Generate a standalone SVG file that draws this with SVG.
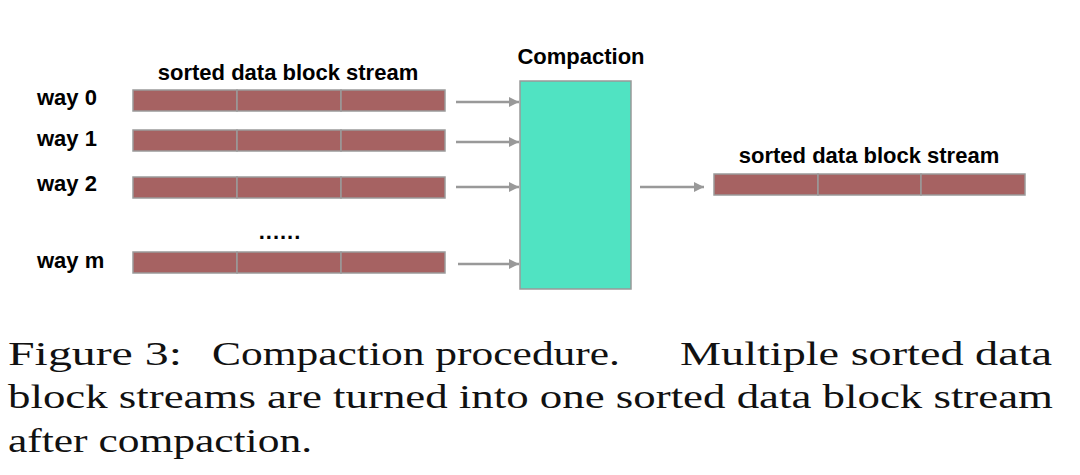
<svg xmlns="http://www.w3.org/2000/svg" width="1080" height="475" viewBox="0 0 1080 475">
<defs>
<style>
.lbl{font-family:"Liberation Sans",Arial,sans-serif;font-weight:bold;font-size:22px;fill:#000}
.blk{fill:#A66262;stroke:#9A9A9A;stroke-width:1.5}
.conn{stroke:#999;stroke-width:2.5;fill:none;marker-end:url(#ah)}
.cap{font-family:"Liberation Serif","Times New Roman",serif;font-size:34px;fill:#111}
</style>
<marker id="ah" viewBox="0 0 10 10" refX="10" refY="5" markerWidth="5.5" markerHeight="4" orient="auto" markerUnits="strokeWidth">
<path d="M0,0 L10,5 L0,10 z" fill="#999"/>
</marker>
</defs>
<rect width="1080" height="475" fill="#fff"/>
<g id="stream-label-in"><text class="lbl" x="288" y="80" text-anchor="middle">sorted data block stream</text></g>
<g id="way0"><text class="lbl" x="37" y="105">way 0</text>
<rect class="blk" x="133" y="90" width="104" height="21"/><rect class="blk" x="237" y="90" width="104" height="21"/><rect class="blk" x="341" y="90" width="104" height="21"/></g>
<g id="way1"><text class="lbl" x="37" y="146">way 1</text>
<rect class="blk" x="133" y="130" width="104" height="21"/><rect class="blk" x="237" y="130" width="104" height="21"/><rect class="blk" x="341" y="130" width="104" height="21"/></g>
<g id="way2"><text class="lbl" x="37" y="191">way 2</text>
<rect class="blk" x="133" y="177" width="104" height="21"/><rect class="blk" x="237" y="177" width="104" height="21"/><rect class="blk" x="341" y="177" width="104" height="21"/></g>
<g id="dots"><text class="lbl" x="280" y="239" text-anchor="middle" letter-spacing="1">......</text></g>
<g id="waym"><text class="lbl" x="37" y="268">way m</text>
<rect class="blk" x="133" y="252" width="104" height="21"/><rect class="blk" x="237" y="252" width="104" height="21"/><rect class="blk" x="341" y="252" width="104" height="21"/></g>
<g id="compaction"><text class="lbl" x="581" y="64" text-anchor="middle">Compaction</text>
<rect x="520" y="81" width="111" height="208" fill="#50E3C2" stroke="#999" stroke-width="1.5"/></g>
<g id="out"><text class="lbl" x="869" y="163" text-anchor="middle">sorted data block stream</text>
<rect class="blk" x="714" y="174" width="104" height="21"/><rect class="blk" x="818" y="174" width="103" height="21"/><rect class="blk" x="921" y="174" width="104" height="21"/></g>
<g id="connectors">
<line class="conn" x1="456" y1="102" x2="519" y2="102"/>
<line class="conn" x1="456" y1="142" x2="519" y2="142"/>
<line class="conn" x1="456" y1="187" x2="519" y2="187"/>
<line class="conn" x1="458" y1="264" x2="519" y2="264"/>
<line class="conn" x1="640" y1="187" x2="704" y2="187"/>
</g>
<g id="caption">
<text class="cap" y="365"><tspan x="8" textLength="174" lengthAdjust="spacingAndGlyphs">Figure 3:</tspan><tspan x="212" textLength="408" lengthAdjust="spacingAndGlyphs">Compaction procedure.</tspan><tspan x="680" textLength="372" lengthAdjust="spacingAndGlyphs">Multiple sorted data</tspan></text>
<text class="cap" x="8" y="408" textLength="1045" lengthAdjust="spacingAndGlyphs">block streams are turned into one sorted data block stream</text>
<text class="cap" x="8" y="452" textLength="304" lengthAdjust="spacingAndGlyphs">after compaction.</text>
</g>
</svg>
